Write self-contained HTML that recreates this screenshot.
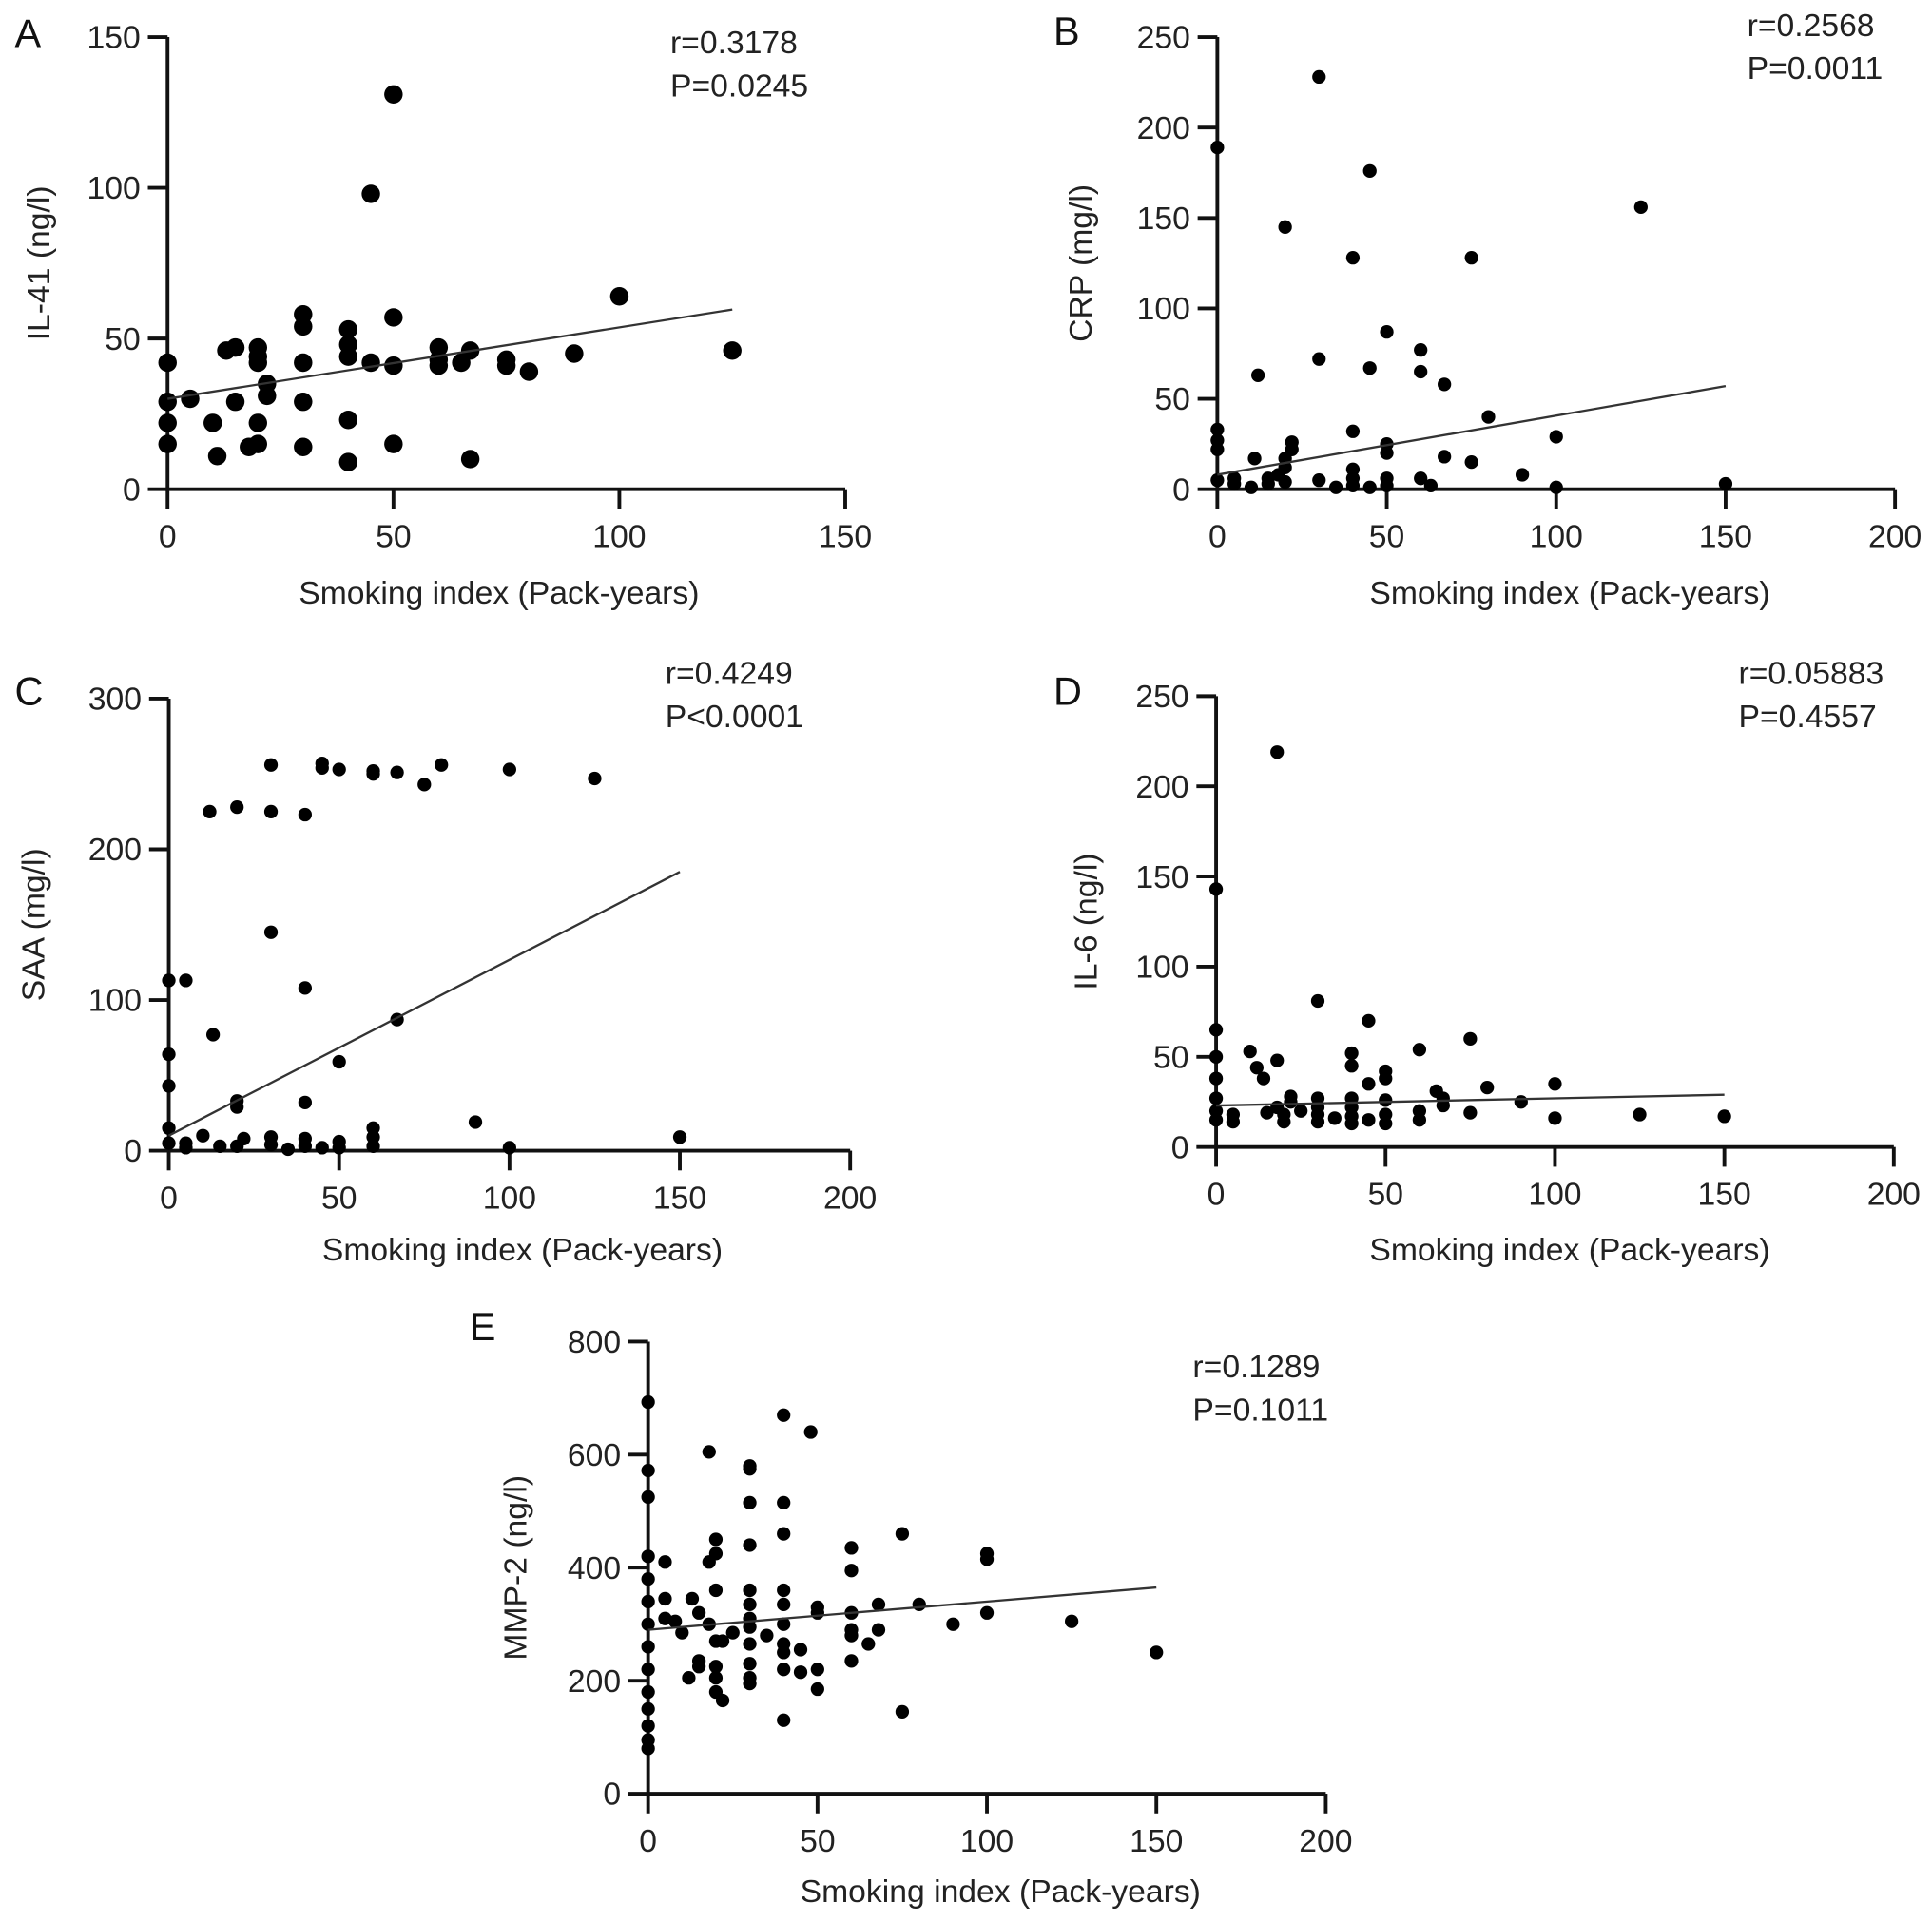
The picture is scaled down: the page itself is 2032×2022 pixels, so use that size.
<!DOCTYPE html>
<html><head><meta charset="utf-8"><style>
html,body{margin:0;padding:0;background:#fff}
svg{display:block;font-family:"Liberation Sans",Arial,sans-serif}
</style></head><body>
<svg id="fig" width="2032" height="2022" viewBox="0 0 1568 1560" xmlns="http://www.w3.org/2000/svg"></svg>
<script>
const aX=[0,0,0,0,5,10,11,13,15,15,18,20,20,20,20,20,22,22,30,30,30,30,30,40,40,40,40,40,45,45,50,50,50,50,60,60,60,65,67,67,75,75,80,90,100,125];
const aY=[42,29,22,15,30,22,11,46,47,29,14,47,44,42,22,15,35,31,58,54,42,29,14,53,48,44,23,9,98,42,131,57,41,15,47,43,41,42,46,10,43,41,39,45,64,46];
const bX=[0,0,0,0,0,5,5,10,11,12,15,15,18,20,20,20,20,22,22,30,30,30,35,40,40,40,40,40,45,45,45,50,50,50,50,50,60,60,60,63,67,67,75,75,80,90,100,100,125,150];
const bY=[189,33,27,22,5,6,3,1,17,63,6,3,8,145,17,12,4,26,22,228,72,5,1,128,32,11,6,2,176,67,1,87,25,20,6,2,77,65,6,2,58,18,128,15,40,8,29,1,156,3];
const cX=[0,0,0,0,0,5,5,5,10,12,13,15,20,20,20,20,22,30,30,30,30,30,35,40,40,40,40,40,45,45,45,50,50,50,50,60,60,60,60,60,67,67,75,80,90,100,100,125,150];
const cY=[113,64,43,15,5,113,5,2,10,225,77,3,228,33,29,3,8,256,225,145,9,4,1,223,108,32,8,3,257,254,2,253,59,6,2,250,252,15,9,3,251,87,243,256,19,253,2,247,9];
const dX=[0,0,0,0,0,0,0,5,5,10,12,14,15,18,18,18,20,20,22,22,25,30,30,30,30,30,35,40,40,40,40,40,40,45,45,45,50,50,50,50,50,60,60,60,65,67,67,75,75,80,90,100,100,125,150];
const dY=[143,65,50,38,27,20,15,18,14,53,44,38,19,219,48,22,18,14,28,25,20,81,27,22,18,14,16,52,45,27,22,17,13,70,35,15,42,38,26,18,13,54,20,15,31,27,23,60,19,33,25,35,16,18,17];
const eX=[0,0,0,0,0,0,0,0,0,0,0,0,0,0,5,5,5,8,10,12,13,15,15,15,18,18,18,20,20,20,20,20,20,20,22,22,25,30,30,30,30,30,30,30,30,30,30,30,30,35,40,40,40,40,40,40,40,40,40,40,45,45,48,50,50,50,50,60,60,60,60,60,60,65,68,68,75,75,80,90,100,100,100,125,150];
const eY=[693,572,525,420,380,340,300,260,220,180,150,120,95,80,410,345,310,305,285,205,345,320,235,225,605,410,300,450,425,360,270,225,205,180,165,270,285,580,575,515,440,360,335,310,295,265,230,205,195,280,670,515,460,360,335,300,265,250,220,130,255,215,640,330,320,220,185,435,395,320,290,280,235,265,335,290,460,145,335,300,425,415,320,305,250];
const fitIntercepts=[30,8,10,23,290];
const fitSlopes=[0.237,0.327,1.167,0.04,0.5];
const fitMaxX=[125,150,150,150,150];
const xTicksAB=["0","50","100","150"];
const xTicks200=["0","50","100","150","200"];
const yTicksA=["0","50","100","150"];
const yTicks250=["0","50","100","150","200","250"];
const yTicksC=["0","100","200","300"];
const yTicksE=["0","200","400","600","800"];
const stats=[["r=0.3178","P=0.0245"],["r=0.2568","P=0.0011"],["r=0.4249","P<0.0001"],["r=0.05883","P=0.4557"],["r=0.1289","P=0.1011"]];
const yTitles=["IL-41 (ng/l)","CRP (mg/l)","SAA (mg/l)","IL-6 (ng/l)","MMP-2 (ng/l)"];
const letters=["A","B","C","D","E"];

const NS="http://www.w3.org/2000/svg";
const svg=document.getElementById('fig');
function mk(tag,attrs,parent){const e=document.createElementNS(NS,tag);for(const k in attrs)e.setAttribute(k,attrs[k]);(parent||svg).appendChild(e);return e;}
const FS=26;
const panels=[
 {xs:aX,ys:aY,x0:136,x1:686,y0:397,y1:30,xmax:150,ymax:150,xt:xTicksAB,yt:yTicksA,r:7.5,lx:12,ly:38,sx:544,sy:34,ytx:40,xtx:405,xty:481},
 {xs:bX,ys:bY,x0:988,x1:1538,y0:397,y1:30,xmax:200,ymax:250,xt:xTicks200,yt:yTicks250,r:5.5,lx:855,ly:36,sx:1418,sy:20,ytx:886,xtx:1274,xty:481},
 {xs:cX,ys:cY,x0:137,x1:690,y0:934,y1:567,xmax:200,ymax:300,xt:xTicks200,yt:yTicksC,r:5.5,lx:12,ly:572,sx:540,sy:546,ytx:36,xtx:424,xty:1014},
 {xs:dX,ys:dY,x0:987,x1:1537,y0:931,y1:565,xmax:200,ymax:250,xt:xTicks200,yt:yTicks250,r:5.5,lx:855,ly:572,sx:1411,sy:546,ytx:890,xtx:1274,xty:1014},
 {xs:eX,ys:eY,x0:526,x1:1076,y0:1456,y1:1089,xmax:200,ymax:800,xt:xTicks200,yt:yTicksE,r:5.5,lx:381,ly:1088,sx:968,sy:1109,ytx:427,xtx:812,xty:1535}
];
panels.forEach((p,i)=>{
 const g=mk('g',{});
 
 
 const sx=v=>p.x0+(p.x1-p.x0)*v/p.xmax;
 const sy=v=>p.y0-(p.y0-p.y1)*v/p.ymax;
 const ax=mk('path',{d:`M${p.x0} ${p.y1}V${p.y0}H${p.x1}`,stroke:'#111','stroke-width':3,fill:'none'},g);
 
 
 p.xt.forEach(t=>{const x=sx(+t);mk('line',{x1:x,x2:x,y1:p.y0,y2:p.y0+16,stroke:'#111','stroke-width':3},g);
  const tx=mk('text',{x:x,y:p.y0+47,'font-size':FS,'text-anchor':'middle',fill:'#222'},g);tx.textContent=t;
  
  });
 p.yt.forEach(t=>{const y=sy(+t);mk('line',{x1:p.x0-16,x2:p.x0,y1:y,y2:y,stroke:'#111','stroke-width':3},g);
  const tx=mk('text',{x:p.x0-22,y:y+9,'font-size':FS,'text-anchor':'end',fill:'#222'},g);tx.textContent=t;
  
  });
 p.xs.forEach((xv,j)=>{const c=mk('circle',{cx:sx(xv),cy:sy(p.ys[j]),r:p.r,fill:'#000'},g);
  
  });
 const fl=mk('line',{x1:sx(0),y1:sy(fitIntercepts[i]),x2:sx(fitMaxX[i]),y2:sy(fitIntercepts[i]+fitSlopes[i]*fitMaxX[i]),stroke:'#333','stroke-width':1.8},g);
 
 
 const L=mk('text',{x:p.lx,y:p.ly,'font-size':32,fill:'#111'},g);L.textContent=letters[i];
 
 
 stats[i].forEach((s,k)=>{const t=mk('text',{x:p.sx,y:p.sy+9+k*35,'font-size':FS,fill:'#222'},g);t.textContent=s;
  
  });
 const yc=(p.y0+p.y1)/2;
 const yt=mk('text',{x:p.ytx,y:yc,'font-size':FS,'text-anchor':'middle',fill:'#222',transform:`rotate(-90 ${p.ytx} ${yc})`},g);yt.textContent=yTitles[i];
 
 
 const xt=mk('text',{x:p.xtx,y:p.xty+9,'font-size':FS,'text-anchor':'middle',fill:'#222'},g);xt.textContent="Smoking index (Pack-years)";
 
 
});
</script>
</body></html>
